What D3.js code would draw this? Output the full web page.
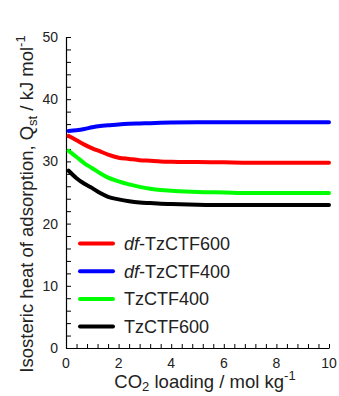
<!DOCTYPE html>
<html>
<head>
<meta charset="utf-8">
<script src="https://cdn.jsdelivr.net/npm/d3@7"></script>
<style>
  html, body { margin: 0; padding: 0; background: #fff; }
  svg { display: block; font-family: "Liberation Sans", Arial, sans-serif; }
</style>
</head>
<body>
<svg id="chart" width="339" height="396"></svg>
<script>
// CO2 loading (mol/kg) sample points shared by all curves
const loading = [0.1, 0.4, 0.7, 1.0, 1.3, 1.6, 2.0, 2.4, 2.8, 3.2, 3.6, 4.0, 5.0, 6.0, 7.0, 8.0, 9.0, 10.0];

// Isosteric heat of adsorption (kJ/mol) for each material
const dfTzCTF600 = [34.1, 33.4, 32.7, 32.1, 31.6, 31.1, 30.6, 30.4, 30.2, 30.1, 30.0, 29.95, 29.9, 29.85, 29.8, 29.8, 29.8, 29.8];
const dfTzCTF400 = [34.9, 35.0, 35.2, 35.5, 35.7, 35.8, 35.95, 36.05, 36.1, 36.15, 36.2, 36.25, 36.3, 36.3, 36.3, 36.3, 36.3, 36.3];
const TzCTF400   = [31.7, 30.7, 29.7, 28.9, 28.1, 27.4, 26.8, 26.3, 25.9, 25.6, 25.4, 25.3, 25.1, 25.0, 24.9, 24.9, 24.9, 24.9];
const TzCTF600   = [28.5, 27.3, 26.4, 25.7, 24.9, 24.3, 23.9, 23.6, 23.4, 23.3, 23.2, 23.15, 23.05, 23.0, 23.0, 23.0, 23.0, 23.0];

const seriesNames  = ["df-TzCTF600", "df-TzCTF400", "TzCTF400", "TzCTF600"];
const seriesValues = [dfTzCTF600, dfTzCTF400, TzCTF400, TzCTF600];
const seriesColors = ["#ff0000", "#0000ff", "#00ff00", "#000000"];

const xTickLabels = [0, 2, 4, 6, 8, 10];
const yTickLabels = [0, 10, 20, 30, 40, 50];

const svg = d3.select("#chart");
const x = d3.scaleLinear().domain([0, 10]).range([66, 329]);
const y = d3.scaleLinear().domain([0, 50]).range([348, 37]);

// minor ticks (inward)
const xMinor = d3.range(0, 10.001, 0.4).map(v => +v.toFixed(1));
const yMinor = d3.range(0, 50.001, 2);

svg.append("g").attr("transform", `translate(0,${y(0)})`)
  .call(d3.axisBottom(x).tickValues(xMinor).tickSizeInner(-4).tickSizeOuter(0).tickFormat(""));
svg.append("g").attr("transform", `translate(${x(0)},0)`)
  .call(d3.axisLeft(y).tickValues(yMinor).tickSizeInner(-5).tickSizeOuter(0).tickFormat(""));
svg.selectAll(".domain").attr("stroke", "#000").attr("stroke-width", 1.2);
svg.selectAll(".tick line").attr("stroke", "#000").attr("stroke-width", 1);

// tick labels
svg.append("g").selectAll("text").data(xTickLabels).join("text")
  .attr("x", d => x(d)).attr("y", y(0) + 20)
  .attr("text-anchor", "middle").attr("font-size", 14).attr("fill", "#222")
  .text(d => d);
svg.append("g").selectAll("text").data(yTickLabels).join("text")
  .attr("x", x(0) - 8).attr("y", d => y(d) + 5)
  .attr("text-anchor", "end").attr("font-size", 14).attr("fill", "#222")
  .text(d => d);

// axis titles
const xt = svg.append("text").attr("x", 205).attr("y", 388)
  .attr("text-anchor", "middle").attr("font-size", 18.5).attr("fill", "#222");
xt.append("tspan").text("CO");
xt.append("tspan").attr("font-size", 13).attr("dy", 3).text("2");
xt.append("tspan").attr("dy", -3).text(" loading / mol kg");
xt.append("tspan").attr("font-size", 13).attr("dy", -8).text("-1");

const yt = svg.append("text").attr("transform", "translate(33,204) rotate(-90)")
  .attr("text-anchor", "middle").attr("font-size", 18.5).attr("fill", "#222");
yt.append("tspan").text("Isosteric heat of adsorption, Q");
yt.append("tspan").attr("font-size", 13).attr("dy", 4).text("st");
yt.append("tspan").attr("dy", -4).text(" / kJ mol");
yt.append("tspan").attr("font-size", 13).attr("dy", -8).text("-1");

// curves
const line = d3.line().x((d, i) => x(loading[i])).y(d => y(d)).curve(d3.curveMonotoneX);
svg.append("g").selectAll("path").data(seriesValues).join("path")
  .attr("d", line).attr("fill", "none")
  .attr("stroke", (d, i) => seriesColors[i]).attr("stroke-width", 4)
  .attr("stroke-linecap", "round");

// legend
const leg = svg.append("g").selectAll("g").data(seriesNames).join("g")
  .attr("transform", (d, i) => `translate(80,${243.5 + i * 27.7})`);
leg.append("line").attr("x1", 0).attr("x2", 33).attr("y1", 0).attr("y2", 0)
  .attr("stroke", (d, i) => seriesColors[i]).attr("stroke-width", 4).attr("stroke-linecap", "round");
leg.each(function(d) {
  const t = d3.select(this).append("text").attr("x", 44).attr("y", 6.5)
    .attr("font-size", 18).attr("fill", "#222");
  if (d.startsWith("df-")) {
    t.append("tspan").attr("font-style", "italic").text("df");
    t.append("tspan").text(d.slice(2));
  } else {
    t.text(d);
  }
});
</script>
</body>
</html>
